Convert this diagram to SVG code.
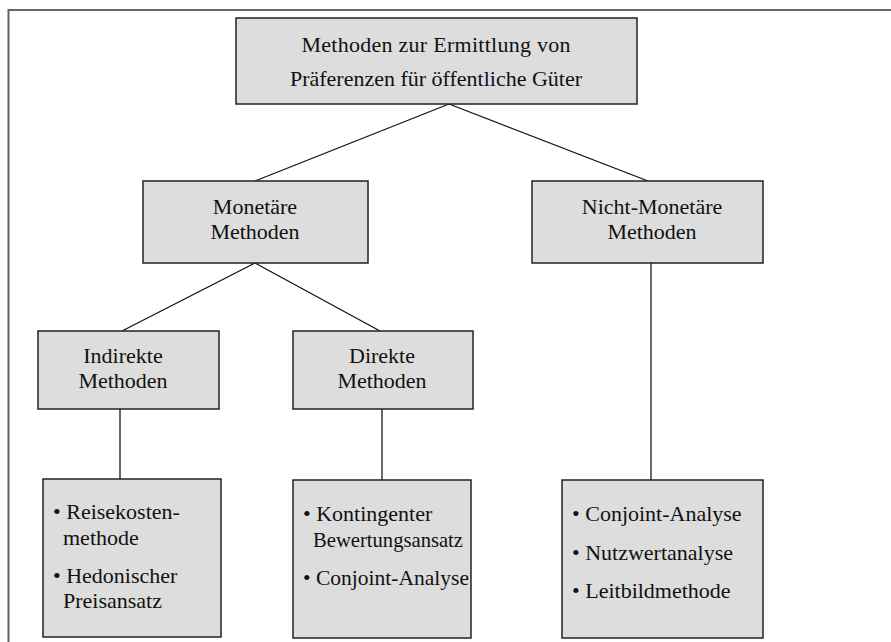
<svg xmlns="http://www.w3.org/2000/svg" width="891" height="642" viewBox="0 0 891 642">
<style>
.box{fill:#dddddd;stroke:#222;stroke-width:1.5}
.t{font-family:"Liberation Serif","Times New Roman",serif;font-size:22px;fill:#111}
.c{text-anchor:middle}
.ln{stroke:#111;stroke-width:1.3;fill:none}
.vl{stroke:#444;stroke-width:1.6;fill:none}
</style>
<rect width="891" height="642" fill="#fff"/>
<path d="M8.5 642 V10 H891" fill="none" stroke="#666" stroke-width="2"/>
<g id="connectors">
<line class="ln" x1="449" y1="104" x2="255" y2="181"/>
<line class="ln" x1="449" y1="104" x2="648" y2="181"/>
<line class="ln" x1="255" y1="263" x2="122" y2="331"/>
<line class="ln" x1="255" y1="263" x2="380" y2="331"/>
<line class="vl" x1="120" y1="409" x2="120" y2="479"/>
<line class="vl" x1="382" y1="409" x2="382" y2="480"/>
<line class="vl" x1="651" y1="263" x2="651" y2="480"/>
</g>
<g id="root">
<rect class="box" x="236" y="18" width="401" height="86"/>
<text class="t c" x="436" y="52" textLength="269">Methoden zur Ermittlung von</text>
<text class="t c" x="436" y="86">Präferenzen für öffentliche Güter</text>
</g>
<g id="monetaer">
<rect class="box" x="143" y="181" width="225" height="82"/>
<text class="t c" x="255" y="214">Monetäre</text>
<text class="t c" x="255" y="239">Methoden</text>
</g>
<g id="nichtmonetaer">
<rect class="box" x="532" y="181" width="231" height="82"/>
<text class="t c" x="652" y="214">Nicht-Monetäre</text>
<text class="t c" x="652" y="239">Methoden</text>
</g>
<g id="indirekt">
<rect class="box" x="38" y="331" width="181" height="78"/>
<text class="t c" x="123" y="363">Indirekte</text>
<text class="t c" x="123" y="388">Methoden</text>
</g>
<g id="direkt">
<rect class="box" x="293" y="331" width="180" height="78"/>
<text class="t c" x="382" y="363">Direkte</text>
<text class="t c" x="382" y="388">Methoden</text>
</g>
<g id="indirekt-list">
<rect class="box" x="43" y="479" width="178" height="158"/>
<text class="t" x="53" y="519">• Reisekosten-</text>
<text class="t" x="63" y="545">methode</text>
<text class="t" x="53" y="583">• Hedonischer</text>
<text class="t" x="63" y="608">Preisansatz</text>
</g>
<g id="direkt-list">
<rect class="box" x="293" y="480" width="178" height="158"/>
<text class="t" x="303" y="521">• Kontingenter</text>
<text class="t" x="313" y="547" textLength="150" lengthAdjust="spacingAndGlyphs">Bewertungsansatz</text>
<text class="t" x="303" y="585" textLength="166" lengthAdjust="spacingAndGlyphs">• Conjoint-Analyse</text>
</g>
<g id="nicht-list">
<rect class="box" x="562" y="480" width="201" height="158"/>
<text class="t" x="572" y="521">• Conjoint-Analyse</text>
<text class="t" x="572" y="560">• Nutzwertanalyse</text>
<text class="t" x="572" y="598">• Leitbildmethode</text>
</g>
</svg>
